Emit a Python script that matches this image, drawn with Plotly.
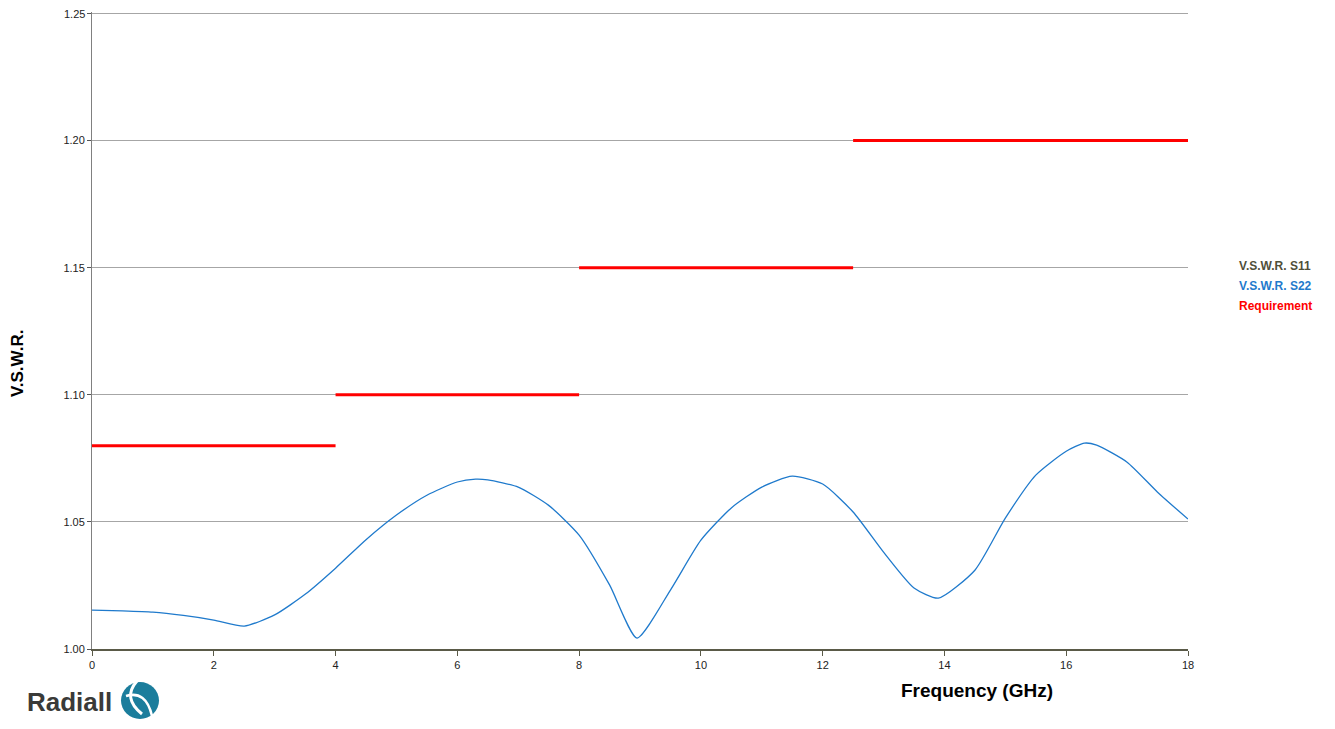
import plotly.graph_objects as go

freq_s22 = [0, 0.5, 1, 1.5, 2, 2.5, 3, 3.5, 4, 4.5, 5, 5.5, 6, 6.3, 6.5, 7, 7.5, 8, 8.5, 8.95,
            9.5, 10, 10.5, 11, 11.5, 12, 12.5, 13, 13.5, 13.9, 14.5, 15, 15.5, 16, 16.3, 16.5,
            17, 17.5, 18]
vswr_s22 = [1.0153, 1.0150, 1.0145, 1.0132, 1.0114, 1.0090, 1.0134, 1.0215, 1.0318, 1.0430,
            1.0527, 1.0605, 1.0657, 1.0668, 1.0665, 1.0637, 1.0565, 1.0448, 1.0252, 1.0043,
            1.0232, 1.0428, 1.0555, 1.0637, 1.0680, 1.0649, 1.0539, 1.0381, 1.0240, 1.0200,
            1.0310, 1.0515, 1.0684, 1.0778, 1.0810, 1.0802, 1.0735, 1.0617, 1.0511]

# Requirement limit segments
req_start = [0, 4, 8, 12.5]
req_end = [4, 8, 12.5, 18]
req_value = [1.08, 1.10, 1.15, 1.20]

x_ticks = [0, 2, 4, 6, 8, 10, 12, 14, 16, 18]
y_ticks = [1.00, 1.05, 1.10, 1.15, 1.20, 1.25]
y_labels = ["1.00", "1.05", "1.10", "1.15", "1.20", "1.25"]

legend_names = ["V.S.W.R. S11", "V.S.W.R. S22", "Requirement"]
legend_colors = ["#4f4f3a", "#1f7acc", "#ff0000"]

# page offset compensation (body margin)
OFF = 8
L, T, R, B = 92 - OFF, 12 - OFF, 1335 - 1188 + OFF, 729 - 649 + OFF
TOP_PX = 12
PW, PH = 1096, 649 - TOP_PX

def px(x):
    return (x - 92) / PW

def py(y):
    return 1 - (y - TOP_PX) / PH

tick_font = dict(family="Liberation Sans, Arial", size=11, color="#222")

fig = go.Figure()

fig.add_trace(go.Scatter(x=freq_s22, y=vswr_s22, mode="lines", name="V.S.W.R. S22",
                         line=dict(color="#1f7acc", width=1.3, shape="spline", smoothing=0.6),
                         showlegend=False))

for a, b, v in zip(req_start, req_end, req_value):
    fig.add_trace(go.Scatter(x=[a, b], y=[v, v], mode="lines", name="Requirement",
                             line=dict(color="#ff0000", width=3), showlegend=False))

# the top label sits at the figure's edge, where plotly drops it; draw it as an annotation
shown_labels = y_labels[:-1] + [""]

fig.update_xaxes(range=[0, 18], tickvals=x_ticks, showgrid=False, zeroline=False,
                 showline=True, linecolor="#5a5a48", linewidth=2,
                 ticks="outside", ticklen=5, tickcolor="#5a5a48", tickwidth=1,
                 tickfont=tick_font)
fig.update_yaxes(range=[1.0, 1.2506], tickvals=y_ticks, ticktext=shown_labels,
                 showgrid=True, gridcolor="#a6a6a6", gridwidth=1, zeroline=False,
                 showline=True, linecolor="#808080", linewidth=1,
                 ticks="outside", ticklen=4, tickcolor="#555", tickwidth=1,
                 tickfont=tick_font)

annotations = [dict(xref="paper", yref="y", x=px(87), y=y_ticks[-1], xanchor="right",
                    yanchor="middle", text=y_labels[-1], showarrow=False, font=tick_font)]
for i, (n, c) in enumerate(zip(legend_names, legend_colors)):
    annotations.append(dict(xref="paper", yref="paper", x=px(1237), y=py(266 + 20 * i),
                            xanchor="left", yanchor="middle",
                            text="<b>%s</b>" % n, showarrow=False,
                            font=dict(family="Liberation Sans, Arial", size=12, color=c)))
annotations.append(dict(xref="paper", yref="paper", x=px(977), y=py(690),
                        xanchor="center", yanchor="middle", text="<b>Frequency (GHz)</b>",
                        showarrow=False, font=dict(family="Liberation Sans, Arial", size=19, color="#000")))
annotations.append(dict(xref="paper", yref="paper", x=px(17), y=py(364),
                        xanchor="center", yanchor="middle", text="<b>V.S.W.R.</b>", textangle=-90,
                        showarrow=False, font=dict(family="Liberation Sans, Arial", size=17, color="#000")))
annotations.append(dict(xref="paper", yref="paper", x=px(25), y=py(702),
                        xanchor="left", yanchor="middle", text="<b>Radiall</b>",
                        showarrow=False, font=dict(family="Liberation Sans, Arial", size=26, color="#3a3a38")))

shapes = [
    dict(type="circle", xref="paper", yref="paper", x0=px(121), x1=px(159),
         y0=py(719), y1=py(682), fillcolor="#1b7d9c", line=dict(width=0)),
    dict(type="path", xref="paper", yref="paper",
         path="M %f %f Q %f %f %f %f" % (px(137), py(681), px(122), py(698), px(142), py(714)),
         line=dict(color="white", width=3)),
    dict(type="path", xref="paper", yref="paper",
         path="M %f %f Q %f %f %f %f" % (px(126), py(696), px(146), py(690), px(152), py(716)),
         line=dict(color="white", width=2.5)),
]

fig.update_layout(width=1335, height=729, margin=dict(l=L, r=R, t=T, b=B),
                  plot_bgcolor="white", paper_bgcolor="white",
                  annotations=annotations, shapes=shapes, showlegend=False)

fig.write_html("out.html")
